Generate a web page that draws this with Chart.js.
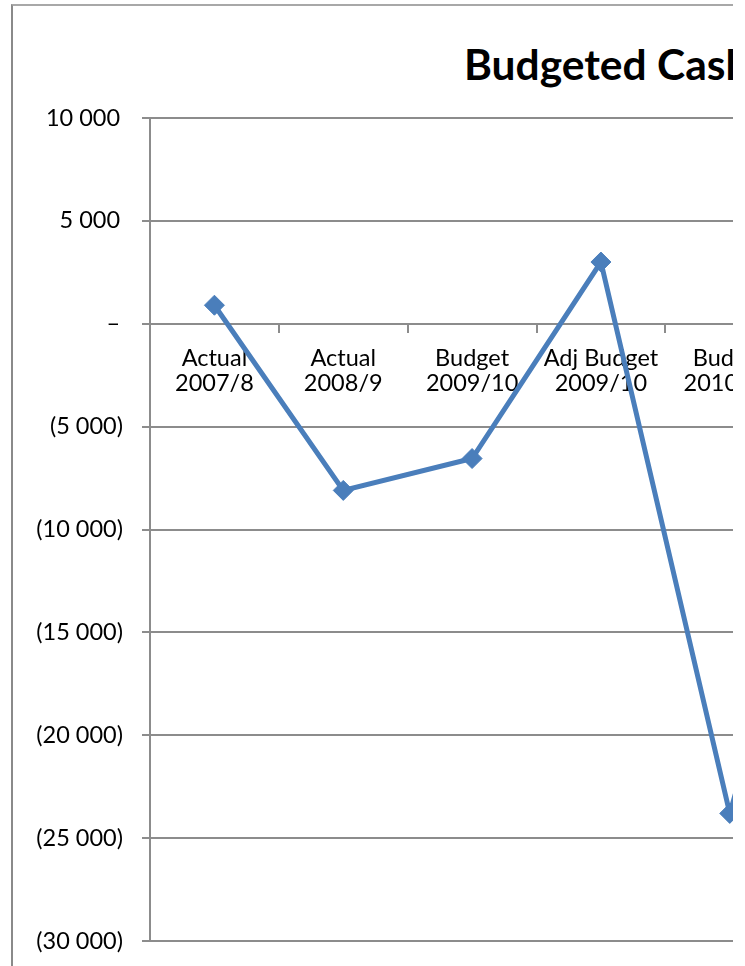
<!DOCTYPE html>
<html>
<head>
<meta charset="utf-8">
<script src="https://cdn.jsdelivr.net/npm/chart.js@4.4.0/dist/chart.umd.min.js"></script>
<style>
  html, body { margin: 0; padding: 0; background: #fff; overflow: hidden; }
  #clip { position: absolute; left: 0; top: 0; width: 733px; height: 966px; overflow: hidden; background: #fff; }
  #frame { position: absolute; left: 11px; top: 4px; width: 1100px; height: 1100px;
           border-left: 2px solid #8a8a8a; border-top: 2px solid #a8a8a8; box-sizing: border-box; }
  #title { position: absolute; left: 464px; top: 38px; white-space: nowrap;
           font-family: Lato, "Open Sans", sans-serif; font-weight: bold; font-size: 42.5px; color: #000; line-height: normal; }
  canvas { position: absolute; left: 0; top: 0; }
</style>
</head>
<body>
<div id="clip">
  <div id="frame"></div>
  <div id="title">Budgeted Cash Flow</div>
  <canvas id="c" width="1000" height="1050"></canvas>
</div>
<script>
const categories = [
  ["Actual", "2007/8"],
  ["Actual", "2008/9"],
  ["Budget", "2009/10"],
  ["Adj Budget", "2009/10"],
  ["Budget", "2010/11"],
  ["Budget", "2011/12"]
];
const cashFlow = [900, -8100, -6550, 3000, -23800, -2000];
const yMin = -30000;
const yMax = 10000;
const yStep = 5000;

function fmt(v) {
  if (v === 0) return "\u2013\u2009";
  const s = Math.abs(v).toString().replace(/\B(?=(\d{3})+(?!\d))/g, " ");
  return v < 0 ? "(" + s + ")" : s + "\u2009";
}

const gridColor = "#8c8c8c";
const fontSpec = { family: "Lato, 'Open Sans', sans-serif", size: 23.5, lineHeight: 25 / 23.5 };

new Chart(document.getElementById("c"), {
  type: "line",
  data: {
    labels: categories,
    datasets: [{
      data: cashFlow,
      borderColor: "#4a7ebb",
      borderWidth: 5,
      pointStyle: "rectRot",
      pointRadius: 10,
      pointHoverRadius: 10,
      pointBackgroundColor: "#4a7ebb",
      pointBorderColor: "#4a7ebb",
      pointBorderWidth: 1,
      tension: 0,
      fill: false
    }]
  },
  options: {
    responsive: false,
    animation: false,
    devicePixelRatio: 1,
    layout: { padding: { left: 14, top: 118, right: 77, bottom: 109 } },
    plugins: { legend: { display: false }, title: { display: false }, tooltip: { enabled: false } },
    scales: {
      x: {
        type: "category",
        offset: true,
        position: { y: 0 },
        grid: { offset: true, drawOnChartArea: false, drawTicks: true, tickLength: 8, color: gridColor, lineWidth: 2 },
        border: { display: true, color: gridColor, width: 2 },
        ticks: { autoSkip: false, maxRotation: 0, minRotation: 0, padding: 14, color: "#000", font: fontSpec }
      },
      y: {
        min: yMin,
        max: yMax,
        afterFit: (s) => { s.width = 136; },
        grid: { color: gridColor, lineWidth: 2, tickLength: 8, drawTicks: true },
        border: { display: true, color: gridColor, width: 2 },
        ticks: { stepSize: yStep, padding: 19, color: "#000", font: fontSpec, callback: (v) => fmt(v) }
      }
    }
  }
});
</script>
</body>
</html>
